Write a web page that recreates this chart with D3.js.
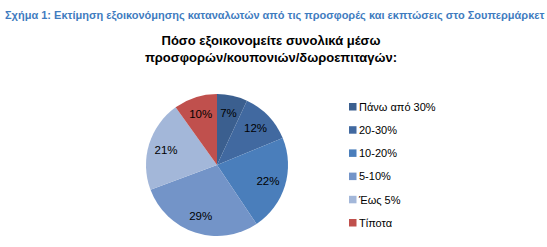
<!DOCTYPE html>
<html>
<head>
<meta charset="utf-8">
<script src="https://cdn.jsdelivr.net/npm/d3@7"></script>
<style>
  body { margin: 0; background: #fff; }
  text { font-family: "Liberation Sans", Arial, sans-serif; }
</style>
</head>
<body>
<div id="chart"></div>
<script>
var categories = ["Πάνω από 30%", "20-30%", "10-20%", "5-10%", "Έως 5%", "Τίποτα"];
var values = [7, 12, 22, 29, 21, 10];
var colors = ["#3b5f8f", "#4169a0", "#4a7ebb", "#7394c8", "#a3b7d9", "#c0504d"];

var width = 547, height = 247;
var cx = 217, cy = 165, radius = 71;

var svg = d3.select("#chart").append("svg")
  .attr("width", width)
  .attr("height", height);

// figure caption
svg.append("text")
  .attr("x", 5).attr("y", 19)
  .style("font-size", "11px")
  .style("font-weight", "bold")
  .style("fill", "#3f7cc0")
  .text("Σχήμα 1: Εκτίμηση εξοικονόμησης καταναλωτών από τις προσφορές και εκπτώσεις στο Σουπερμάρκετ");

// chart title, two lines
var title = svg.append("text")
  .attr("text-anchor", "middle")
  .style("font-size", "13px")
  .style("font-weight", "bold")
  .style("fill", "#000");
title.append("tspan").attr("x", 271).attr("y", 45).text("Πόσο εξοικονομείτε συνολικά μέσω");
title.append("tspan").attr("x", 271).attr("y", 62).text("προσφορών/κουπονιών/δωροεπιταγών:");

var pie = d3.pie().sort(null).value(function(d) { return d; });
var arc = d3.arc().innerRadius(0).outerRadius(radius);
var labelArc = d3.arc().innerRadius(radius * 0.75).outerRadius(radius * 0.75);

var g = svg.append("g").attr("transform", "translate(" + cx + "," + cy + ")");
var arcs = pie(values);

g.selectAll("path.slice")
  .data(arcs)
  .enter().append("path")
  .attr("class", "slice")
  .attr("d", arc)
  .attr("fill", function(d, i) { return colors[i]; });

g.selectAll("text.lbl")
  .data(arcs)
  .enter().append("text")
  .attr("class", "lbl")
  .attr("transform", function(d) { return "translate(" + labelArc.centroid(d) + ")"; })
  .attr("text-anchor", "middle")
  .attr("dy", "0.35em")
  .style("font-size", "11.5px")
  .style("fill", "#000")
  .text(function(d) { return d.value + "%"; });

// legend
var legend = svg.append("g").attr("transform", "translate(349,107)");
var rows = legend.selectAll("g.row")
  .data(categories)
  .enter().append("g")
  .attr("class", "row")
  .attr("transform", function(d, i) { return "translate(0," + (i * 23.2) + ")"; });
rows.append("rect")
  .attr("x", 0).attr("y", -4)
  .attr("width", 7.5).attr("height", 7.5)
  .attr("fill", function(d, i) { return colors[i]; });
rows.append("text")
  .attr("x", 10).attr("y", 0)
  .attr("dy", "0.35em")
  .style("font-size", "11px")
  .style("fill", "#000")
  .text(function(d) { return d; });
</script>
</body>
</html>
